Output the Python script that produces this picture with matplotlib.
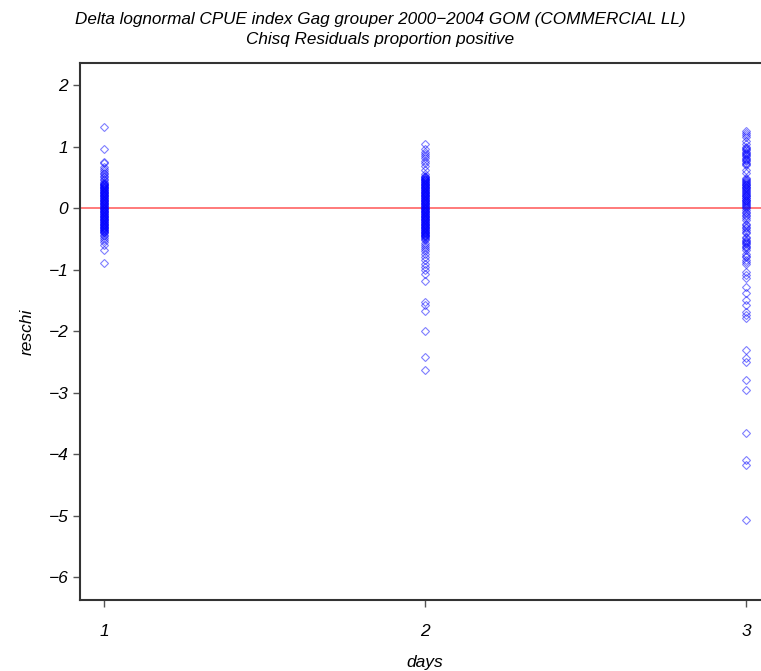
import numpy as np
import matplotlib
matplotlib.use('Agg')
import matplotlib.pyplot as plt

# residuals, one list per day
day1 = [1.32, 0.96, 0.75, 0.73, 0.67, 0.64, 0.6, 0.57, 0.55, 0.52, 0.5, 0.47, 0.45, 0.43,
        0.41, 0.4, 0.39, 0.38, 0.37, 0.36, 0.35, 0.34, 0.33, 0.32, 0.31, 0.3, 0.29,
        0.28, 0.27, 0.26, 0.25, 0.24, 0.23, 0.22, 0.21, 0.2, 0.19, 0.18, 0.17, 0.16,
        0.15, 0.14, 0.13, 0.12, 0.11, 0.1, 0.09, 0.08, 0.07, 0.06, 0.05, 0.04, 0.03,
        0.02, 0.01, 0.0, -0.01, -0.02, -0.03, -0.04, -0.05, -0.06, -0.07, -0.08,
        -0.09, -0.1, -0.11, -0.12, -0.13, -0.14, -0.15, -0.16, -0.17, -0.18, -0.19,
        -0.2, -0.21, -0.22, -0.23, -0.24, -0.25, -0.26, -0.27, -0.28, -0.29, -0.3,
        -0.31, -0.32, -0.33, -0.34, -0.35, -0.36, -0.37, -0.38, -0.39, -0.41,
        -0.43, -0.46, -0.48, -0.51, -0.55, -0.6, -0.68, -0.89]
day2 = [1.04, 0.97, 0.92, 0.88, 0.84, 0.81, 0.77, 0.73, 0.68, 0.62, 0.56,
        0.52, 0.51, 0.5, 0.49, 0.48, 0.47, 0.46, 0.45, 0.44, 0.43, 0.42, 0.41, 0.4,
        0.39, 0.38, 0.37, 0.36, 0.35, 0.34, 0.33, 0.32, 0.31, 0.3, 0.29, 0.28, 0.27,
        0.26, 0.25, 0.24, 0.23, 0.22, 0.21, 0.2, 0.19, 0.18, 0.17, 0.16, 0.15, 0.14,
        0.13, 0.12, 0.11, 0.1, 0.09, 0.08, 0.07, 0.06, 0.05, 0.04, 0.03, 0.02, 0.01,
        0.0, -0.01, -0.02, -0.03, -0.04, -0.05, -0.06, -0.07, -0.08, -0.09, -0.1,
        -0.11, -0.12, -0.13, -0.14, -0.15, -0.16, -0.17, -0.18, -0.19, -0.2, -0.21,
        -0.22, -0.23, -0.24, -0.25, -0.26, -0.27, -0.28, -0.29, -0.3, -0.31, -0.32,
        -0.33, -0.34, -0.35, -0.36, -0.37, -0.38, -0.39, -0.4, -0.41, -0.42, -0.43,
        -0.44, -0.45, -0.46, -0.47, -0.48, -0.5, -0.52,
        -0.56, -0.6, -0.63, -0.66, -0.7, -0.74, -0.79, -0.85, -0.9, -0.95, -1.01,
        -1.07, -1.18, -1.52, -1.58, -1.67, -1.99, -2.42, -2.63]
day3 = [1.25, 1.22, 1.19, 1.15, 1.1, 1.05, 1.0, 0.98, 0.96, 0.94, 0.92, 0.9, 0.88,
        0.86, 0.84, 0.82, 0.8, 0.78, 0.76, 0.74, 0.72, 0.7, 0.62, 0.57,
        0.49, 0.47, 0.46, 0.44, 0.43, 0.41, 0.4, 0.38, 0.37, 0.35, 0.34, 0.32, 0.31,
        0.29, 0.28, 0.26, 0.25, 0.23, 0.22, 0.2, 0.19, 0.17, 0.16, 0.14, 0.13, 0.11,
        0.1, 0.08, 0.07, 0.05, 0.04, 0.02, 0.0, -0.03, -0.06, -0.08, -0.11, -0.13,
        -0.16, -0.2, -0.25, -0.28, -0.3, -0.33, -0.36, -0.39, -0.41,
        -0.47, -0.49, -0.51, -0.53, -0.55, -0.57, -0.59, -0.61, -0.63, -0.65, -0.68,
        -0.74, -0.78, -0.8, -0.85, -0.88, -0.9, -1.04, -1.09, -1.14, -1.28,
        -1.38, -1.5, -1.58, -1.69, -1.74, -1.79, -2.31, -2.44, -2.5, -2.8,
        -2.96, -3.66, -4.09, -4.18, -5.07]
days = [1, 2, 3]

title = ('Delta lognormal CPUE index Gag grouper 2000\u22122004 GOM (COMMERCIAL LL)\n'
         'Chisq Residuals proportion positive')

plt.rcParams['font.family'] = ['Liberation Sans', 'DejaVu Sans']
plt.rcParams['font.style'] = 'italic'

fig = plt.figure(figsize=(7.61, 6.71), dpi=100)
ax = fig.add_axes([80 / 761, 71 / 671, 690 / 761, 537 / 671])

for d, vals in zip(days, [day1, day2, day3]):
    ax.plot(np.full(len(vals), d), vals, linestyle='none', marker='D', ms=4,
            mfc='none', mec=(0, 0, 1, 0.5), mew=0.8)

ax.axhline(0, color='#ff7070', lw=1.3, zorder=0)

ax.set_xlim(0.925, 3.075)
ax.set_ylim(-6.37, 2.36)
ax.set_xticks(days)
ax.set_yticks(range(-6, 3))
ax.set_yticklabels(['\u2212%d' % -v if v < 0 else str(v) for v in range(-6, 3)])
ax.tick_params(labelsize=12.5, length=5, color='#555555', width=1)
ax.tick_params(axis='x', pad=12)
for s in ax.spines.values():
    s.set_linewidth(1.5)
    s.set_color('#333333')

ax.set_xlabel('days', fontsize=12.5, labelpad=12)
ax.set_ylabel('reschi', fontsize=12.5, labelpad=10)
fig.text(0.5, 0.982, title, ha='center', va='top', fontsize=12.3, linespacing=1.45)

fig.savefig('out.png', dpi=100)
